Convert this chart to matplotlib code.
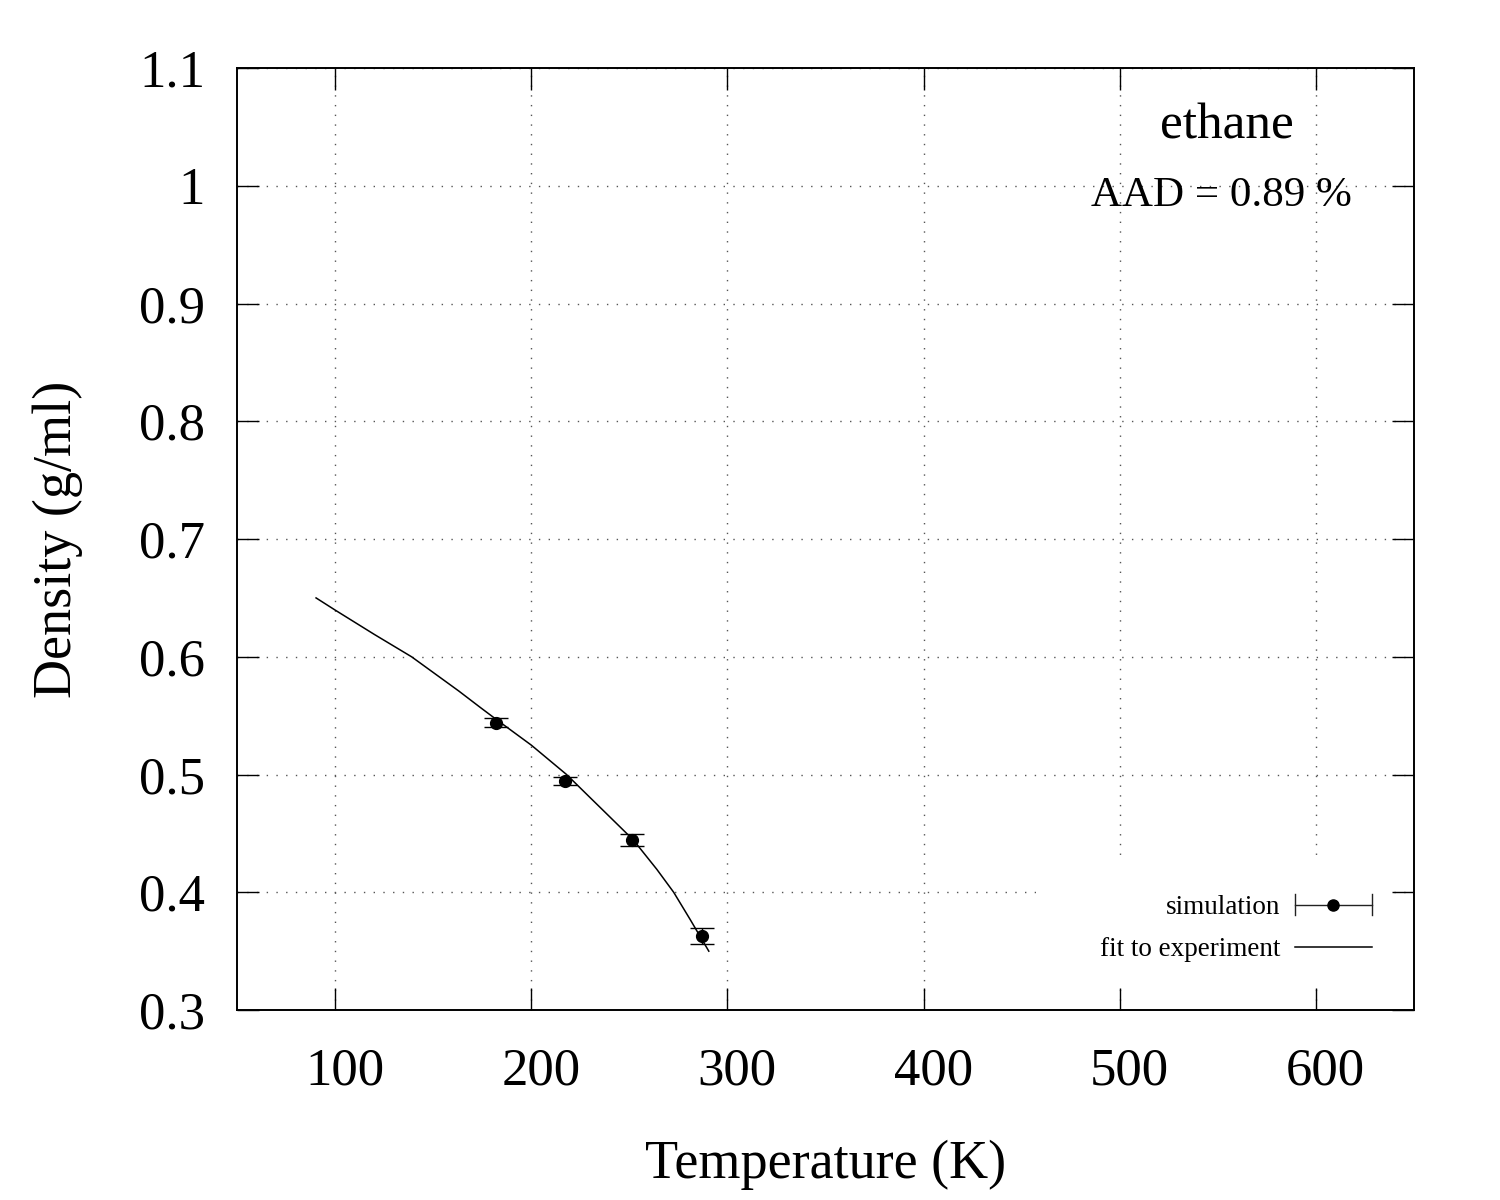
import matplotlib
matplotlib.use("Agg")
import matplotlib.pyplot as plt
import matplotlib.transforms as mtransforms
from matplotlib.legend_handler import HandlerBase
from matplotlib.lines import Line2D
from matplotlib.patches import Rectangle
from matplotlib.ticker import FuncFormatter

plt.rcParams['font.family'] = ['Liberation Serif', 'DejaVu Serif']

# simulation points
sim_temp = [182, 217, 251.5, 286.8]
sim_density = [0.544, 0.4945, 0.4443, 0.363]
sim_err = [0.004, 0.003, 0.0048, 0.007]

# fit to experiment curve
fit_temp = [90.3, 100, 120, 139, 163, 174, 182, 200, 218, 230, 237, 252,
            264, 272.6, 281, 290.5]
fit_density = [0.650, 0.6397, 0.619, 0.600, 0.571, 0.557, 0.547, 0.525, 0.500,
               0.4804, 0.469, 0.4445, 0.4195, 0.400, 0.3769, 0.350]

x_ticks = [100, 200, 300, 400, 500, 600]
y_ticks = [0.3, 0.4, 0.5, 0.6, 0.7, 0.8, 0.9, 1.0, 1.1]

species = "ethane"
aad_text = "AAD = 0.89 %"


class HorizErrHandler(HandlerBase):
    # gnuplot-like key sample: horizontal bar with caps and a dot
    def create_artists(self, legend, orig_handle, xdescent, ydescent,
                       width, height, fontsize, trans):
        y = height / 2 - ydescent
        x0, x1 = -xdescent, width - xdescent
        cap = height * 0.55
        kw = dict(color='#222222', lw=1.0, transform=trans)
        line = Line2D([x0, x1], [y, y], **kw)
        c0 = Line2D([x0, x0], [y - cap, y + cap], **kw)
        c1 = Line2D([x1, x1], [y - cap, y + cap], **kw)
        dot = Line2D([(x0 + x1) / 2], [y], marker='o', ms=8, color='black',
                     linestyle='none', transform=trans)
        return [line, c0, c1, dot]


fig = plt.figure(figsize=(15, 12), dpi=100)
ax = fig.add_axes([0.158, 0.1583, 0.7847, 0.7850])

sim = ax.errorbar(sim_temp, sim_density, yerr=sim_err, fmt='o', color='black',
                  ms=8.5, elinewidth=1.0, capsize=8.5, capthick=1.0, zorder=3)
fit_line, = ax.plot(fit_temp, fit_density, color='black', lw=1.1, zorder=2)

ax.set_xlim(50, 650)
ax.set_ylim(0.3, 1.1)
ax.set_xticks(x_ticks)
ax.set_yticks(y_ticks)
ax.yaxis.set_major_formatter(FuncFormatter(lambda v, p: '%g' % v))

ax.grid(True, color='#555555', linestyle=(0, (1, 6)), linewidth=1.0)
ax.set_axisbelow(True)

ax.tick_params(direction='in', length=16, width=1.0, top=True, right=True,
               labelsize=38)
ax.tick_params(axis='x', pad=27)
ax.tick_params(axis='y', pad=23)
shift = mtransforms.ScaledTranslation(7 / 72, 0, fig.dpi_scale_trans)
for lab in ax.get_xticklabels():
    lab.set_transform(lab.get_transform() + shift)
for s in ax.spines.values():
    s.set_linewidth(1.4)

ax.set_xlabel("Temperature (K)", fontsize=39, labelpad=32)
ax.set_ylabel("Density (g/ml)", fontsize=39, labelpad=40)

ax.text(0.841, 0.938, species, transform=ax.transAxes, ha='center',
        va='center', fontsize=37)
ax.text(0.836, 0.864, aad_text, transform=ax.transAxes, ha='center',
        va='center', fontsize=31)

# white key background that hides the grid (as in gnuplot)
ax.add_patch(Rectangle((0.679, 0.0234), 0.298, 0.140, transform=ax.transAxes,
                       facecolor='white', edgecolor='none', zorder=1))

leg = ax.legend([sim, fit_line], ["simulation", "fit to experiment"],
                handler_map={type(sim): HorizErrHandler()},
                loc='lower right', bbox_to_anchor=(0.9643, 0.051),
                borderaxespad=0, borderpad=0, fontsize=19.5, markerfirst=False,
                handlelength=2.85, handletextpad=0.55, labelspacing=0.62,
                frameon=False)

fig.savefig("out.png", dpi=100)
